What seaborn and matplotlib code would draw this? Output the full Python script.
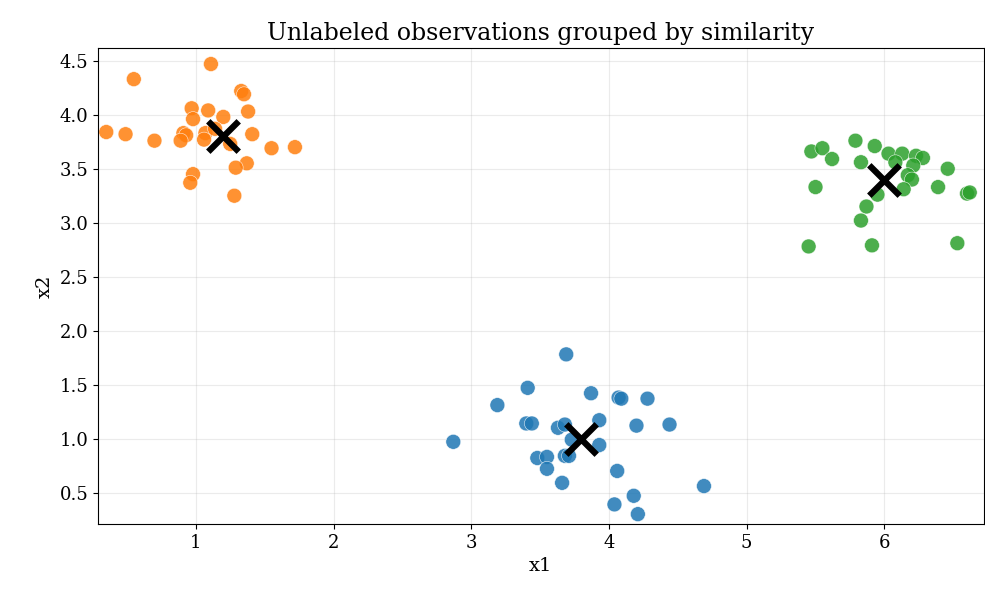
import matplotlib
matplotlib.use("Agg")
import matplotlib.pyplot as plt
import seaborn as sns
import pandas as pd
import numpy as np

# Puntos, por grupo
x1_a = [3.69, 3.41, 3.19, 3.87, 4.07, 4.09, 4.28, 3.40, 3.44, 3.63, 3.68, 3.93, 4.20, 4.44,
        2.87, 3.73, 3.93, 3.48, 3.55, 3.68, 3.71, 3.55, 4.06, 3.66, 4.69, 4.18, 4.04, 4.21]
x2_a = [1.78, 1.47, 1.31, 1.42, 1.38, 1.37, 1.37, 1.14, 1.14, 1.10, 1.13, 1.17, 1.12, 1.13,
        0.97, 0.99, 0.94, 0.82, 0.83, 0.84, 0.84, 0.72, 0.70, 0.59, 0.56, 0.47, 0.39, 0.30]

x1_b = [1.11, 0.55, 1.33, 1.35, 0.97, 1.09, 1.38, 1.20, 0.98, 0.35, 0.49, 0.91, 0.93, 1.07,
        1.41, 0.70, 0.89, 1.06, 1.55, 1.72, 1.37, 1.29, 0.98, 0.96, 1.28, 1.14, 1.25]
x2_b = [4.47, 4.33, 4.22, 4.19, 4.06, 4.04, 4.03, 3.98, 3.96, 3.84, 3.82, 3.83, 3.81, 3.83,
        3.82, 3.76, 3.76, 3.77, 3.69, 3.70, 3.55, 3.51, 3.45, 3.37, 3.25, 3.87, 3.73]

x1_c = [5.47, 5.55, 5.62, 5.79, 5.93, 5.83, 6.03, 6.13, 6.08, 6.23, 6.28, 6.21, 6.17, 6.20,
        6.46, 5.50, 6.14, 6.39, 5.95, 6.60, 6.62, 5.87, 5.83, 5.45, 5.91, 6.53]
x2_c = [3.66, 3.69, 3.59, 3.76, 3.71, 3.56, 3.64, 3.64, 3.56, 3.62, 3.60, 3.53, 3.44, 3.40,
        3.50, 3.33, 3.31, 3.33, 3.26, 3.27, 3.28, 3.15, 3.02, 2.78, 2.79, 2.81]

# Centroides
cent_x1 = [3.80, 1.20, 6.00]
cent_x2 = [1.00, 3.80, 3.40]

df = pd.DataFrame({
    "x1": x1_a + x1_b + x1_c,
    "x2": x2_a + x2_b + x2_c,
    "cluster": [0] * len(x1_a) + [1] * len(x1_b) + [2] * len(x1_c),
})

plt.rcParams["font.family"] = "DejaVu Serif"

fig = plt.figure(figsize=(9.85, 5.98), dpi=100)
ax = fig.add_axes([0.0995, 0.124, 0.899, 0.796])
sns.scatterplot(data=df, x="x1", y="x2", hue="cluster", palette="tab10",
                s=115, alpha=0.85, linewidth=0.4, edgecolor="white",
                legend=False, ax=ax)
ax.scatter(cent_x1, cent_x2, marker="x", s=480, c="black", linewidths=4.5, zorder=5)

ax.set_xlim(0.29, 6.72)
ax.set_ylim(0.21, 4.62)
ax.set_yticks(np.arange(0.5, 4.51, 0.5))
ax.grid(True, alpha=0.25)
ax.set_axisbelow(True)
ax.tick_params(labelsize=13)
ax.set_xlabel("x1", fontsize=14)
ax.set_ylabel("x2", fontsize=14)
ax.set_title("Unlabeled observations grouped by similarity", fontsize=17)

fig.savefig("out.png", dpi=100)
plt.close(fig)
